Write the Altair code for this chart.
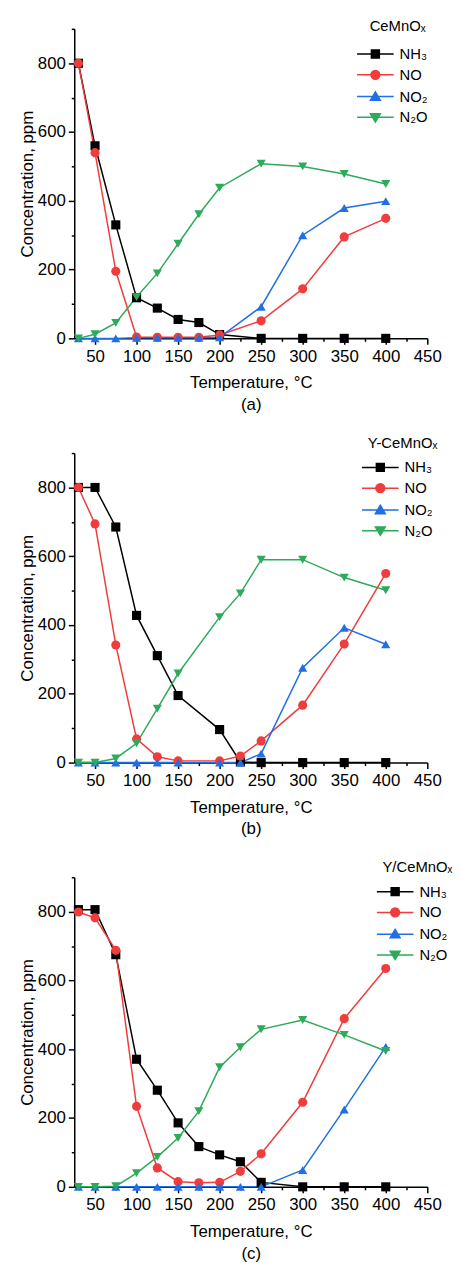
import altair as alt
import pandas as pd

# ---------------- data ----------------
series_names = ["NH₃", "NO", "NO₂", "N₂O"]

temps_a = [30, 50, 75, 100, 125, 150, 175, 200, 250, 300, 350, 400]
nh3_a = [800, 560, 330, 118, 88, 55, 46, 11, 0, 0, 0, 0]
no_a = [800, 540, 195, 4, 3, 3, 3, 10, 51, 144, 295, 349]
no2_a = [0, 0, 0, 2, 2, 2, 2, 3, 92, 300, 379, 399]
n2o_a = [0, 12, 45, 120, 189, 275, 361, 438, 508, 500, 478, 449]

temps_b = [30, 50, 75, 100, 125, 150, 200, 225, 250, 300, 350, 400]
nh3_b = [800, 800, 685, 428, 311, 195, 96, 2, 0, 0, 0, 0]
no_b = [800, 694, 342, 69, 17, 5, 5, 19, 63, 167, 345, 550]
no2_b = [0, 0, 0, 0, 0, 0, 0, 0, 26, 276, 392, 344]
n2o_b = [0, 0, 12, 56, 157, 259, 423, 492, 590, 590, 538, 501]

temps_c = [30, 50, 75, 100, 125, 150, 175, 200, 225, 250, 300, 350, 400]
nh3_c = [806, 806, 675, 371, 281, 186, 117, 93, 73, 13, 0, 0, 0]
no_c = [799, 782, 688, 234, 55, 15, 12, 13, 45, 96, 246, 489, 635]
no2_c = [0, 0, 0, 0, 0, 0, 0, 0, 0, 0, 49, 225, 407]
n2o_c = [0, 0, 2, 40, 87, 142, 220, 348, 406, 458, 485, 442, 395]

panel_titles = ["CeMnOₓ", "Y-CeMnOₓ", "Y/CeMnOₓ"]
panel_labels = ["(a)", "(b)", "(c)"]

x_ticks = [50, 75, 100, 125, 150, 175, 200, 225, 250, 275, 300, 325, 350, 375, 400, 425, 450]
y_ticks = [0, 100, 200, 300, 400, 500, 600, 700, 800, 900]

# ---------------- style ----------------
colors = ["#000000", "#f03c3c", "#1f6fe6", "#2daa5a"]
shapes = ["square", "circle", "triangle-up", "triangle-down"]
FONT = "Liberation Sans"

legend_paths = [
    "M-3.7,0H3.7M-0.8,-0.8H0.8V0.8H-0.8Z",
    "M-3.7,0H3.7M0.9,0A0.9,0.9,0,1,1,-0.9,0A0.9,0.9,0,1,1,0.9,0Z",
    "M-3.7,0H3.7M0,-0.95L1,0.75H-1Z",
    "M-3.7,0H3.7M0,0.95L1,-0.75H-1Z",
]


def make_df(temps, cols):
    rows = []
    for name, vals in zip(series_names, cols):
        for t, v in zip(temps, vals):
            rows.append({"T": t, "C": v, "gas": name})
    return pd.DataFrame(rows)


datasets = [
    make_df(temps_a, [nh3_a, no_a, no2_a, n2o_a]),
    make_df(temps_b, [nh3_b, no_b, no2_b, n2o_b]),
    make_df(temps_c, [nh3_c, no_c, no2_c, n2o_c]),
]

legend_xy = [(297, -10, 13), (297, -17, 9), (312, -17, 9)]


def panel(df, title, label, lx, ly, tpad):
    x = alt.X(
        "T:Q",
        scale=alt.Scale(domain=[25, 450], nice=False, zero=False),
        axis=alt.Axis(
            values=x_ticks,
            title=["Temperature, °C", label],
            labelExpr="datum.value % 50 === 0 ? datum.label : ''",
            labelFlush=False,
            tickSize={"condition": {"test": "datum.value % 50 === 0", "value": 6}, "value": 3},
            grid=False,
        ),
    )
    y = alt.Y(
        "C:Q",
        scale=alt.Scale(domain=[0, 900], nice=False),
        axis=alt.Axis(
            values=y_ticks,
            title="Concentration, ppm",
            labelExpr="datum.value % 200 === 0 && datum.value < 900 ? datum.label : ''",
            labelFlush=False,
            tickSize={"condition": {"test": "datum.value % 200 === 0", "value": 6}, "value": 3},
            grid=False,
        ),
    )
    color_scale = alt.Scale(domain=series_names, range=colors)
    lines = alt.Chart(df).mark_line(strokeWidth=1.5).encode(
        x=x,
        y=y,
        color=alt.Color("gas:N", scale=color_scale, legend=None),
        detail="gas:N",
    )
    pts = alt.Chart(df).mark_point(filled=True, opacity=1, size=85).encode(
        x=x,
        y=y,
        color=alt.Color("gas:N", scale=color_scale, legend=None),
        shape=alt.Shape("gas:N", scale=alt.Scale(domain=series_names, range=shapes), legend=None),
    )
    leg = alt.Chart(df).transform_filter("false").mark_point(filled=True, size=100, strokeWidth=1.5).encode(
        x=x,
        y=y,
        fill=alt.Fill("gas:N", scale=color_scale, title=title),
        stroke=alt.Stroke("gas:N", scale=color_scale, title=title),
        shape=alt.Shape(
            "gas:N",
            scale=alt.Scale(domain=series_names, range=legend_paths),
            title=title,
            legend=alt.Legend(
                title=title,
                orient="none",
                legendX=lx,
                legendY=ly,
                titleAnchor="middle",
                titlePadding=tpad,
                titleFontSize=15,
                titleFontWeight="normal",
                titleFont=FONT,
                labelFont=FONT,
                labelFontSize=15,
                labelOffset=17,
                symbolSize=100,
                symbolStrokeWidth=1.5,
                symbolOpacity=1,
                rowPadding=5,
                padding=0,
            ),
        ),
    )
    return (
        alt.layer(lines, pts, leg)
        .resolve_scale(shape="independent", fill="independent", stroke="independent")
        .properties(width=357, height=313)
    )


charts = [
    panel(df, t, l, lx, ly, tp)
    for df, t, l, (lx, ly, tp) in zip(datasets, panel_titles, panel_labels, legend_xy)
]

chart = (
    alt.vconcat(*charts, spacing=24)
    .properties(padding={"left": 10, "top": 4, "right": 0, "bottom": 0})
    .configure_view(stroke=None)
    .configure_axis(
        labelFont=FONT,
        titleFont=FONT,
        labelFontSize=17,
        titleFontSize=17,
        titleFontWeight="normal",
        labelColor="#000",
        titleColor="#000",
        domainColor="#000",
        tickColor="#000",
        domainWidth=1.5,
        tickWidth=1.5,
    )
    .configure_axisX(labelPadding=4, titlePadding=11, titleLineHeight=22)
    .configure_axisY(labelPadding=3, titlePadding=1)
)

chart.save("out.html", embed_options={"renderer": "svg", "actions": False})
